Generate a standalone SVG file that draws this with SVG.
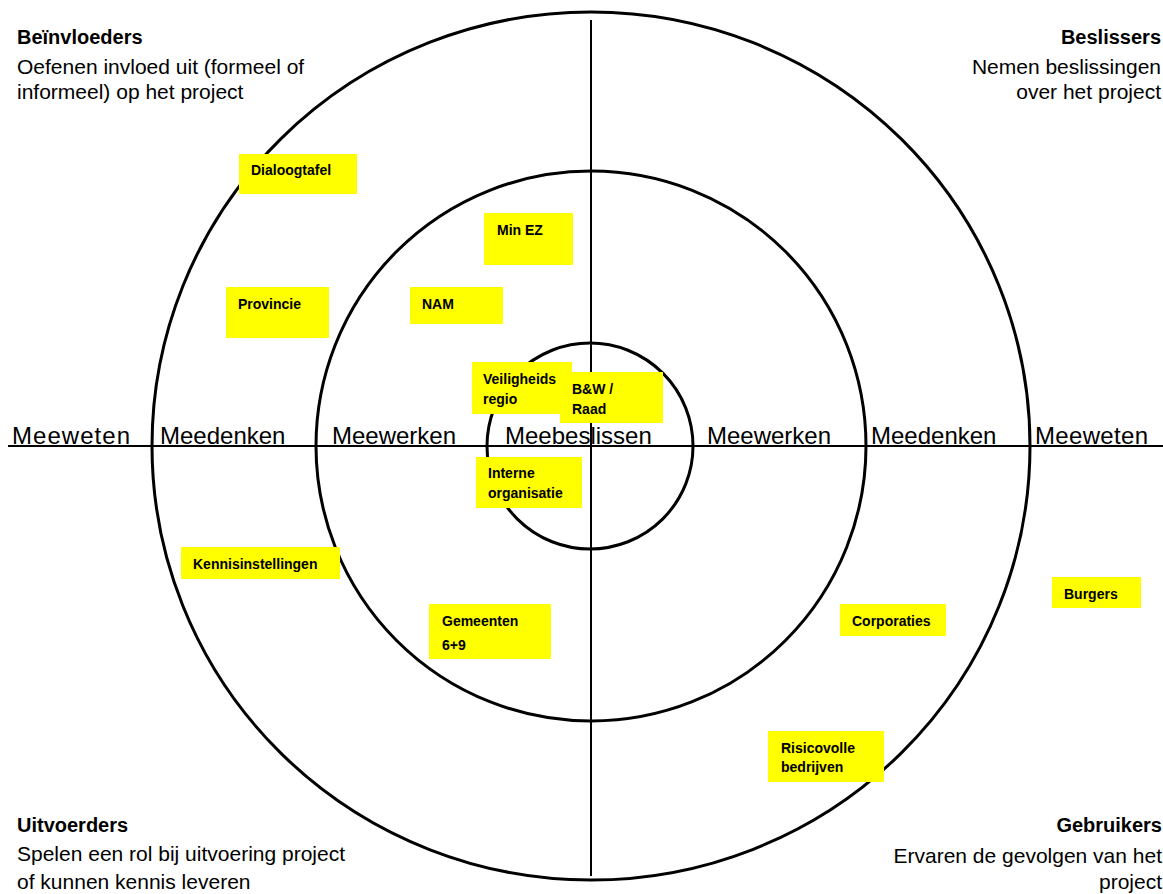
<svg xmlns="http://www.w3.org/2000/svg" width="1163" height="894" viewBox="0 0 1163 894">
<style>
.ring{fill:none;stroke:#000;stroke-width:3}
.axis{stroke:#000;stroke-width:2}
.lbl{font-family:"Liberation Sans",Arial,sans-serif;font-size:24px;fill:#000}
.hd{font-family:"Liberation Sans",Arial,sans-serif;font-size:20px;font-weight:bold;fill:#000}
.ds{font-family:"Liberation Sans",Arial,sans-serif;font-size:21px;fill:#000}
.box{fill:#ffff00;stroke:none}
.bt{font-family:"Liberation Sans",Arial,sans-serif;font-size:14px;font-weight:bold;fill:#000}
</style>
<rect width="1163" height="894" fill="#fff"/>
<g id="rings">
<ellipse class="ring" cx="591" cy="446" rx="439" ry="434"/>
<circle class="ring" cx="591" cy="446" r="275"/>
<circle class="ring" cx="590" cy="446" r="103"/>
</g>
<g id="connectors">
<line class="axis" x1="8" y1="446" x2="1163" y2="446"/>
<line class="axis" x1="591" y1="20" x2="591" y2="876"/>
</g>
<g id="axis-labels">
<text class="lbl" x="12" y="444" textLength="118">Meeweten</text>
<text class="lbl" x="160" y="444">Meedenken</text>
<text class="lbl" x="332" y="444">Meewerken</text>
<text class="lbl" x="505" y="444">Meebeslissen</text>
<text class="lbl" x="707" y="444">Meewerken</text>
<text class="lbl" x="871" y="444">Meedenken</text>
<text class="lbl" x="1035" y="444" textLength="113">Meeweten</text>
</g>
<g id="corner-beinvloeders">
<text class="hd" x="17" y="44">Beïnvloeders</text>
<text class="ds" x="17" y="74">Oefenen invloed uit (formeel of</text>
<text class="ds" x="17" y="99">informeel) op het project</text>
</g>
<g id="corner-beslissers" text-anchor="end">
<text class="hd" x="1161" y="44">Beslissers</text>
<text class="ds" x="1161" y="74">Nemen beslissingen</text>
<text class="ds" x="1161" y="99">over het project</text>
</g>
<g id="corner-uitvoerders">
<text class="hd" x="17" y="832">Uitvoerders</text>
<text class="ds" x="17" y="861">Spelen een rol bij uitvoering project</text>
<text class="ds" x="17" y="889">of kunnen kennis leveren</text>
</g>
<g id="corner-gebruikers" text-anchor="end">
<text class="hd" x="1162" y="832">Gebruikers</text>
<text class="ds" x="1162" y="863">Ervaren de gevolgen van het</text>
<text class="ds" x="1162" y="889">project</text>
</g>
<g id="node-dialoogtafel"><rect class="box" x="239" y="154" width="118" height="40"/><text class="bt" x="251" y="175">Dialoogtafel</text></g>
<g id="node-minez"><rect class="box" x="484" y="213" width="89" height="52"/><text class="bt" x="497" y="235">Min EZ</text></g>
<g id="node-provincie"><rect class="box" x="226" y="287" width="103" height="51"/><text class="bt" x="238" y="309">Provincie</text></g>
<g id="node-nam"><rect class="box" x="410" y="287" width="93" height="37"/><text class="bt" x="422" y="309">NAM</text></g>
<g id="node-veiligheidsregio"><rect class="box" x="472" y="362" width="100" height="52"/><text class="bt" x="483" y="384">Veiligheids</text><text class="bt" x="483" y="404">regio</text></g>
<g id="node-bw-raad"><rect class="box" x="560" y="372" width="103" height="51"/><text class="bt" x="572" y="394">B&amp;W /</text><text class="bt" x="572" y="414">Raad</text></g>
<g id="node-interne-organisatie"><rect class="box" x="476" y="457" width="106" height="51"/><text class="bt" x="488" y="478">Interne</text><text class="bt" x="488" y="498">organisatie</text></g>
<g id="node-kennisinstellingen"><rect class="box" x="181" y="547" width="159" height="32"/><text class="bt" x="193" y="569">Kennisinstellingen</text></g>
<g id="node-gemeenten"><rect class="box" x="429" y="604" width="122" height="55"/><text class="bt" x="442" y="626">Gemeenten</text><text class="bt" x="442" y="650">6+9</text></g>
<g id="node-corporaties"><rect class="box" x="840" y="604" width="106" height="32"/><text class="bt" x="852" y="626">Corporaties</text></g>
<g id="node-burgers"><rect class="box" x="1052" y="577" width="89" height="31"/><text class="bt" x="1064" y="599">Burgers</text></g>
<g id="node-risicovolle-bedrijven"><rect class="box" x="768" y="731" width="116" height="51"/><text class="bt" x="781" y="753">Risicovolle</text><text class="bt" x="781" y="772">bedrijven</text></g>
</svg>
